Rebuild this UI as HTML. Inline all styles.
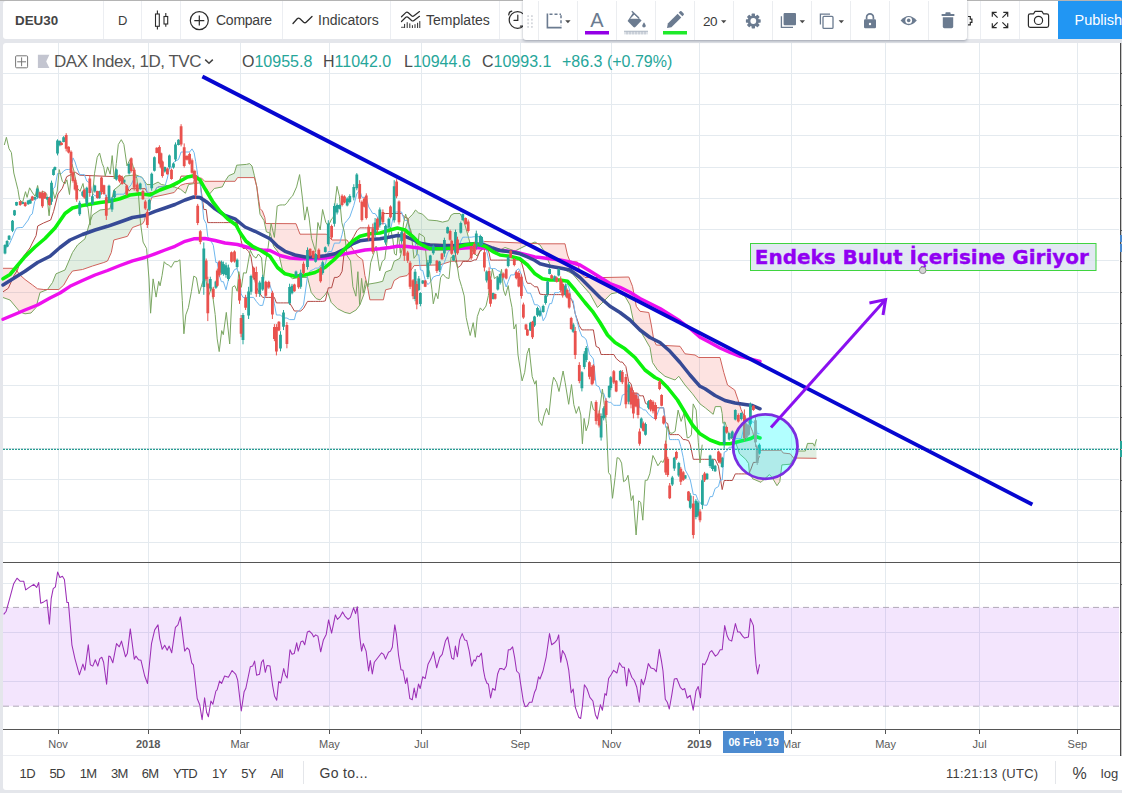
<!DOCTYPE html>
<html><head><meta charset="utf-8"><title>DEU30</title>
<style>
html,body{margin:0;padding:0;}
body{width:1122px;height:793px;overflow:hidden;background:#e4e6eb;position:relative;font-family:"Liberation Sans",sans-serif;color:#4a4a4a;}
.abs{position:absolute;}
#topbar{left:3px;top:1px;width:1119px;height:38px;background:#fff;border-radius:3px 0 0 3px;}
#topline{left:0;top:0;width:1122px;height:1px;background:#b4b4b4;}
.vd{position:absolute;top:1px;width:1px;height:38px;background:#eceef2;}
.tt{position:absolute;top:1px;height:38px;line-height:39px;font-size:14px;color:#3d3d3d;white-space:nowrap;}
#chart{left:3px;top:43px;width:1119px;height:713px;background:#fff;border-radius:3px 0 0 0;}
#bottombar{left:3px;top:755px;width:1119px;height:35px;background:#fff;border-top:1px solid #eceef2;box-sizing:border-box;border-radius:0 0 0 3px;}
.bt{position:absolute;top:757px;height:32px;line-height:33px;font-size:13px;letter-spacing:-0.6px;color:#3d3d3d;white-space:nowrap;}
#ftb{left:523px;top:0;width:444px;height:40px;background:#fff;border-radius:0 0 3px 3px;box-shadow:0 1px 3px rgba(60,70,90,.45);}
.fd{position:absolute;top:1px;width:1px;height:39px;background:#ebedf0;}
#publish{left:1058px;top:1px;width:64px;height:38px;background:#2196f3;color:#fff;font-size:14.5px;line-height:39px;padding-left:16.5px;box-sizing:border-box;white-space:nowrap;overflow:hidden;}
svg{position:absolute;left:0;top:0;overflow:visible;}
.lg{position:absolute;top:50.8px;height:22px;line-height:22px;font-size:16px;color:#4a4a4a;white-space:nowrap;}
.lg span{color:#26a69a;}
.tl{font-family:"Liberation Sans",sans-serif;font-size:11px;fill:#5a5a5a;text-anchor:middle;}
</style></head><body>
<div class="abs" id="topline"></div>
<div class="abs" id="topbar"></div>
<div class="abs" id="chart"></div>
<div class="abs" id="bottombar"></div>

<!-- CHART SVG -->
<svg id="c" width="1122" height="793" viewBox="0 0 1122 793">
<g stroke="#e4eaef" stroke-width="1" shape-rendering="crispEdges"><line x1="58" y1="43" x2="58" y2="729"/><line x1="148.2" y1="43" x2="148.2" y2="729"/><line x1="240" y1="43" x2="240" y2="729"/><line x1="329.4" y1="43" x2="329.4" y2="729"/><line x1="421.3" y1="43" x2="421.3" y2="729"/><line x1="520.2" y1="43" x2="520.2" y2="729"/><line x1="611.5" y1="43" x2="611.5" y2="729"/><line x1="699.5" y1="43" x2="699.5" y2="729"/><line x1="791.5" y1="43" x2="791.5" y2="729"/><line x1="885.6" y1="43" x2="885.6" y2="729"/><line x1="979.6" y1="43" x2="979.6" y2="729"/><line x1="1077.4" y1="43" x2="1077.4" y2="729"/><line x1="3" y1="73.4" x2="1119" y2="73.4"/><line x1="3" y1="104.7" x2="1119" y2="104.7"/><line x1="3" y1="135.9" x2="1119" y2="135.9"/><line x1="3" y1="167.2" x2="1119" y2="167.2"/><line x1="3" y1="198.4" x2="1119" y2="198.4"/><line x1="3" y1="229.7" x2="1119" y2="229.7"/><line x1="3" y1="260.9" x2="1119" y2="260.9"/><line x1="3" y1="292.1" x2="1119" y2="292.1"/><line x1="3" y1="323.4" x2="1119" y2="323.4"/><line x1="3" y1="354.6" x2="1119" y2="354.6"/><line x1="3" y1="385.9" x2="1119" y2="385.9"/><line x1="3" y1="417.1" x2="1119" y2="417.1"/><line x1="3" y1="448.4" x2="1119" y2="448.4"/><line x1="3" y1="479.6" x2="1119" y2="479.6"/><line x1="3" y1="510.9" x2="1119" y2="510.9"/><line x1="3" y1="542.1" x2="1119" y2="542.1"/><line x1="3" y1="583.7" x2="1119" y2="583.7"/><line x1="3" y1="632.4" x2="1119" y2="632.4"/><line x1="3" y1="681" x2="1119" y2="681"/></g>
<path d="M3.0,297.5 L10.0,300.0 L15.0,306.0 L20.0,312.0 L25.0,313.8 L31.0,313.0 L32.5,311.4 L36.0,307.5 L37.5,301.9 L40.0,292.5 L43.8,291.0 L47.5,289.5 L47.5,289.5 L47.5,289.5 L47.5,289.5 L43.8,289.5 L40.0,289.1 L37.5,288.8 L36.0,287.7 L32.5,285.0 L31.0,283.9 L25.0,279.5 L20.0,275.0 L15.0,268.3 L10.0,268.3 L3.0,268.3Z" fill="rgba(244,67,54,0.15)" stroke="none"/><path d="M47.5,289.5 L52.5,282.5 L56.0,273.8 L58.8,272.6 L63.8,270.5 L65.0,270.0 L68.8,261.1 L72.5,252.5 L77.5,245.0 L82.5,240.9 L85.0,238.8 L89.0,225.0 L92.5,215.0 L100.0,210.0 L103.8,209.5 L107.5,209.1 L110.0,208.8 L111.3,202.4 L113.8,190.0 L120.0,185.0 L125.0,176.0 L127.5,175.7 L132.5,175.2 L135.7,174.9 L142.0,177.3 L142.5,178.0 L144.5,181.0 L146.0,183.2 L146.9,184.5 L147.7,184.5 L151.7,184.5 L153.3,184.5 L158.1,182.1 L161.3,184.5 L163.0,184.8 L174.2,186.9 L177.4,188.1 L177.7,188.2 L177.7,188.2 L177.4,188.5 L174.2,192.5 L163.0,195.0 L161.3,195.3 L158.1,196.0 L153.3,197.0 L151.7,197.3 L147.7,211.0 L146.9,212.1 L146.0,213.4 L144.5,220.6 L142.5,223.8 L142.0,224.0 L135.7,226.3 L132.5,227.5 L127.5,236.3 L125.0,237.0 L120.0,238.3 L113.8,240.0 L111.3,252.5 L110.0,255.4 L107.5,261.0 L103.8,262.5 L100.0,263.7 L92.5,266.0 L89.0,267.2 L85.0,268.6 L82.5,269.5 L77.5,270.2 L72.5,271.0 L68.8,276.0 L65.0,282.8 L63.8,285.0 L58.8,289.5 L56.0,289.5 L52.5,289.5 L47.5,289.5Z" fill="rgba(67,150,71,0.16)" stroke="none"/><path d="M177.7,188.2 L180.6,189.3 L185.4,193.3 L188.6,184.5 L193.4,183.7 L195.0,183.5 L199.8,182.9 L201.4,184.3 L204.7,187.1 L206.3,188.5 L209.5,194.1 L214.3,188.5 L222.3,186.9 L225.1,181.3 L225.1,181.3 L222.3,181.3 L214.3,181.3 L209.5,181.3 L206.3,181.3 L204.7,181.3 L201.4,178.0 L199.8,178.0 L195.0,178.0 L193.4,182.9 L188.6,183.4 L185.4,183.7 L180.6,185.3 L177.7,188.2Z" fill="rgba(244,67,54,0.15)" stroke="none"/><path d="M225.1,181.3 L225.5,180.5 L228.7,175.7 L234.3,173.3 L235.1,170.6 L236.7,165.2 L237.5,165.1 L246.4,164.4 L249.6,163.6 L252.0,166.0 L254.4,175.7 L256.8,186.9 L256.8,186.9 L254.4,177.6 L252.0,177.6 L249.6,177.6 L246.4,177.6 L237.5,177.6 L236.7,178.8 L235.1,181.3 L234.3,181.3 L228.7,181.3 L225.5,181.3 L225.1,181.3Z" fill="rgba(67,150,71,0.16)" stroke="none"/><path d="M256.8,186.9 L256.8,186.9 L258.4,201.3 L260.0,214.2 L262.4,218.0 L264.0,220.6 L264.8,224.3 L265.6,228.1 L266.4,231.8 L270.4,233.4 L273.6,246.3 L278.5,252.7 L282.5,270.0 L292.5,278.7 L296.0,278.1 L300.0,277.4 L307.5,277.4 L311.2,292.4 L316.2,298.6 L320.0,299.9 L325.0,294.9 L326.4,292.7 L327.4,291.1 L331.2,302.4 L332.0,303.2 L337.4,308.6 L344.9,312.4 L347.0,312.9 L349.9,313.6 L356.2,309.9 L357.0,308.8 L359.9,304.9 L362.7,297.5 L363.7,294.9 L364.9,290.1 L366.2,284.9 L367.0,284.4 L367.1,284.4 L367.1,284.4 L367.0,284.0 L366.2,280.8 L364.9,275.6 L363.7,267.0 L362.7,259.9 L359.9,257.8 L357.0,255.6 L356.2,254.4 L349.9,244.5 L347.0,240.0 L344.9,240.0 L337.4,240.0 L332.0,240.0 L331.2,239.2 L327.4,235.2 L326.4,234.2 L325.0,234.2 L320.0,234.2 L316.2,234.2 L311.2,234.2 L307.5,234.2 L300.0,234.2 L296.0,223.7 L292.5,223.7 L282.5,223.6 L278.5,223.6 L273.6,223.6 L270.4,223.5 L266.4,223.5 L265.6,223.5 L264.8,217.4 L264.0,215.3 L262.4,211.0 L260.0,208.6 L258.4,198.1 L256.8,186.9 L256.8,186.9Z" fill="rgba(244,67,54,0.15)" stroke="none"/><path d="M367.1,284.4 L369.9,283.9 L377.0,282.7 L382.7,281.3 L383.4,279.1 L385.6,272.0 L391.3,269.9 L394.1,261.3 L399.8,258.4 L402.7,247.0 L405.5,228.5 L407.0,223.3 L408.4,218.5 L412.7,214.2 L414.1,212.1 L415.5,210.0 L418.4,212.8 L422.6,214.2 L428.3,220.0 L436.9,220.7 L439.7,221.4 L442.6,222.1 L448.3,220.7 L451.2,215.0 L454.0,213.5 L460.0,213.5 L463.5,220.0 L467.0,232.0 L468.0,235.7 L470.0,243.0 L472.0,249.0 L473.0,252.0 L473.8,252.8 L473.8,252.8 L473.0,253.8 L472.0,255.0 L470.0,258.0 L468.0,261.0 L467.0,261.0 L463.5,261.0 L460.0,261.0 L454.0,261.2 L451.2,261.3 L448.3,262.2 L442.6,264.0 L439.7,264.9 L436.9,265.0 L428.3,265.2 L422.6,265.4 L418.4,265.5 L415.5,265.6 L414.1,265.6 L412.7,267.7 L408.4,274.0 L407.0,275.6 L405.5,275.9 L402.7,276.4 L399.8,277.0 L394.1,280.6 L391.3,288.4 L385.6,289.8 L383.4,299.8 L382.7,299.8 L377.0,299.8 L369.9,299.8 L367.1,284.4Z" fill="rgba(67,150,71,0.16)" stroke="none"/><path d="M473.8,252.8 L476.0,255.0 L477.0,256.0 L480.0,251.5 L481.0,250.0 L485.0,246.0 L495.0,252.5 L505.0,247.5 L515.0,251.0 L525.0,246.0 L531.4,243.4 L531.4,243.4 L525.0,243.2 L515.0,242.8 L505.0,242.3 L495.0,241.9 L485.0,241.5 L481.0,242.7 L480.0,243.0 L477.0,248.2 L476.0,250.0 L473.8,252.8Z" fill="rgba(244,67,54,0.15)" stroke="none"/><path d="M531.4,243.4 L535.0,242.0 L537.9,243.7 L537.9,243.7 L535.0,243.6 L531.4,243.4Z" fill="rgba(67,150,71,0.16)" stroke="none"/><path d="M537.9,243.7 L540.0,245.0 L545.0,252.5 L550.0,265.0 L557.5,267.5 L565.0,270.0 L567.5,271.3 L570.0,272.5 L572.5,273.8 L577.5,279.6 L580.0,282.5 L585.0,288.1 L590.0,293.8 L597.5,307.5 L605.0,300.0 L611.0,293.8 L617.5,292.5 L625.0,296.3 L628.8,302.9 L630.0,305.0 L632.5,316.5 L633.8,322.5 L636.3,325.5 L640.0,330.0 L645.0,338.8 L648.8,345.4 L650.0,347.5 L651.3,355.3 L652.5,362.5 L653.8,364.4 L656.3,368.2 L657.5,370.0 L665.0,376.3 L675.0,380.0 L678.8,376.3 L680.0,378.0 L685.0,385.0 L692.5,393.8 L695.0,397.2 L698.8,402.3 L700.0,403.9 L705.5,408.0 L713.2,414.3 L715.3,406.6 L720.0,406.6 L720.8,406.6 L722.2,413.6 L722.9,423.3 L723.8,422.7 L725.0,421.9 L727.5,430.4 L729.1,435.8 L734.7,442.0 L736.0,443.4 L738.0,449.3 L739.5,453.8 L741.0,455.1 L744.4,458.2 L745.8,459.4 L748.6,463.5 L749.3,471.9 L752.7,478.8 L755.5,480.0 L757.6,480.9 L761.0,482.3 L763.1,480.2 L769.4,474.6 L772.1,477.4 L777.0,485.7 L779.8,481.6 L781.2,470.5 L781.9,464.9 L783.2,464.8 L790.2,464.2 L793.6,458.6 L794.0,458.0 L794.0,458.0 L793.6,458.0 L790.2,453.8 L783.2,453.0 L781.9,451.2 L781.2,450.3 L779.8,450.3 L777.0,450.3 L772.1,450.3 L769.4,450.3 L763.1,450.3 L761.0,450.3 L757.6,450.3 L755.5,443.4 L752.7,431.6 L749.3,423.6 L748.6,422.0 L745.8,418.3 L744.4,416.4 L741.0,409.4 L739.5,404.5 L738.0,399.7 L736.0,393.8 L734.7,390.0 L729.1,386.1 L727.5,385.0 L725.0,376.6 L723.8,372.5 L722.9,368.9 L722.2,366.2 L720.8,360.7 L720.0,357.5 L715.3,357.5 L713.2,357.5 L705.5,357.5 L700.0,357.5 L698.8,357.5 L695.0,355.0 L692.5,354.7 L685.0,353.8 L680.0,346.3 L678.8,346.2 L675.0,346.0 L665.0,345.5 L657.5,345.1 L656.3,345.0 L653.8,340.0 L652.5,332.2 L651.3,325.0 L650.0,318.5 L648.8,312.5 L645.0,312.0 L640.0,311.3 L636.3,306.3 L633.8,293.1 L632.5,286.3 L630.0,280.0 L628.8,277.0 L625.0,277.1 L617.5,277.2 L611.0,277.4 L605.0,277.5 L597.5,277.5 L590.0,277.5 L585.0,277.5 L580.0,272.5 L577.5,262.0 L572.5,261.5 L570.0,261.3 L567.5,255.0 L565.0,243.8 L557.5,243.8 L550.0,243.8 L545.0,243.8 L540.0,243.8 L537.9,243.7Z" fill="rgba(244,67,54,0.15)" stroke="none"/><path d="M794.0,458.0 L795.7,455.2 L797.1,451.0 L805.4,451.0 L807.5,443.4 L813.1,443.4 L814.5,446.2 L816.5,439.3 L816.5,458.3 L814.5,458.3 L813.1,458.3 L807.5,458.2 L805.4,458.2 L797.1,458.0 L795.7,458.0 L794.0,458.0Z" fill="rgba(67,150,71,0.16)" stroke="none"/><path d="M3.0,297.5 L10.0,300.0 L15.0,306.0 L20.0,312.0 L25.0,313.8 L31.0,313.0 L36.0,307.5 L40.0,292.5 L47.5,289.5 L52.5,282.5 L56.0,273.8 L65.0,270.0 L72.5,252.5 L77.5,245.0 L85.0,238.8 L89.0,225.0 L92.5,215.0 L100.0,210.0 L110.0,208.8 L113.8,190.0 L120.0,185.0 L125.0,176.0 L135.7,174.9 L142.0,177.3 L146.9,184.5 L153.3,184.5 L158.1,182.1 L161.3,184.5 L174.2,186.9 L180.6,189.3 L185.4,193.3 L188.6,184.5 L193.4,183.7 L199.8,182.9 L206.3,188.5 L209.5,194.1 L214.3,188.5 L222.3,186.9 L225.5,180.5 L228.7,175.7 L234.3,173.3 L236.7,165.2 L246.4,164.4 L249.6,163.6 L252.0,166.0 L254.4,175.7 L256.8,186.9 L258.4,201.3 L260.0,214.2 L264.0,220.6 L266.4,231.8 L270.4,233.4 L273.6,246.3 L278.5,252.7 L282.5,270.0 L292.5,278.7 L300.0,277.4 L307.5,277.4 L311.2,292.4 L316.2,298.6 L320.0,299.9 L325.0,294.9 L327.4,291.1 L331.2,302.4 L337.4,308.6 L344.9,312.4 L349.9,313.6 L356.2,309.9 L359.9,304.9 L363.7,294.9 L366.2,284.9 L367.0,284.4 L377.0,282.7 L382.7,281.3 L385.6,272.0 L391.3,269.9 L394.1,261.3 L399.8,258.4 L402.7,247.0 L405.5,228.5 L408.4,218.5 L412.7,214.2 L415.5,210.0 L418.4,212.8 L422.6,214.2 L428.3,220.0 L436.9,220.7 L442.6,222.1 L448.3,220.7 L451.2,215.0 L454.0,213.5 L460.0,213.5 L463.5,220.0 L467.0,232.0 L470.0,243.0 L473.0,252.0 L477.0,256.0 L481.0,250.0 L485.0,246.0 L495.0,252.5 L505.0,247.5 L515.0,251.0 L525.0,246.0 L535.0,242.0 L540.0,245.0 L545.0,252.5 L550.0,265.0 L557.5,267.5 L565.0,270.0 L572.5,273.8 L580.0,282.5 L590.0,293.8 L597.5,307.5 L605.0,300.0 L611.0,293.8 L617.5,292.5 L625.0,296.3 L630.0,305.0 L633.8,322.5 L640.0,330.0 L645.0,338.8 L650.0,347.5 L652.5,362.5 L657.5,370.0 L665.0,376.3 L675.0,380.0 L678.8,376.3 L685.0,385.0 L692.5,393.8 L700.0,403.9 L705.5,408.0 L713.2,414.3 L715.3,406.6 L720.8,406.6 L722.2,413.6 L722.9,423.3 L725.0,421.9 L729.1,435.8 L736.0,443.4 L739.5,453.8 L745.8,459.4 L748.6,463.5 L749.3,471.9 L752.7,478.8 L761.0,482.3 L763.1,480.2 L769.4,474.6 L772.1,477.4 L777.0,485.7 L779.8,481.6 L781.9,464.9 L790.2,464.2 L795.7,455.2 L797.1,451.0 L805.4,451.0 L807.5,443.4 L813.1,443.4 L814.5,446.2 L816.5,439.3" fill="none" stroke="#7aa661" stroke-width="1"/><path d="M3.0,268.3 L15.0,268.3 L20.0,275.0 L25.0,279.5 L32.5,285.0 L37.5,288.8 L43.8,289.5 L58.8,289.5 L63.8,285.0 L68.8,276.0 L72.5,271.0 L82.5,269.5 L92.5,266.0 L103.8,262.5 L107.5,261.0 L111.3,252.5 L113.8,240.0 L127.5,236.3 L132.5,227.5 L142.5,223.8 L144.5,220.6 L146.0,213.4 L147.7,211.0 L151.7,197.3 L163.0,195.0 L174.2,192.5 L177.4,188.5 L180.6,185.3 L185.4,183.7 L193.4,182.9 L195.0,178.0 L201.4,178.0 L204.7,181.3 L235.1,181.3 L237.5,177.6 L254.4,177.6 L256.8,186.9 L258.4,198.1 L260.0,208.6 L262.4,211.0 L264.8,217.4 L265.6,223.5 L296.0,223.7 L300.0,234.2 L326.4,234.2 L332.0,240.0 L347.0,240.0 L357.0,255.6 L362.7,259.9 L364.9,275.6 L367.0,284.0 L369.9,299.8 L383.4,299.8 L385.6,289.8 L391.3,288.4 L394.1,280.6 L399.8,277.0 L407.0,275.6 L408.4,274.0 L412.7,267.7 L414.1,265.6 L439.7,264.9 L442.6,264.0 L451.2,261.3 L460.0,261.0 L468.0,261.0 L472.0,255.0 L476.0,250.0 L480.0,243.0 L485.0,241.5 L540.0,243.8 L565.0,243.8 L567.5,255.0 L570.0,261.3 L577.5,262.0 L580.0,272.5 L585.0,277.5 L605.0,277.5 L628.8,277.0 L632.5,286.3 L636.3,306.3 L640.0,311.3 L648.8,312.5 L651.3,325.0 L653.8,340.0 L656.3,345.0 L680.0,346.3 L685.0,353.8 L695.0,355.0 L698.8,357.5 L720.0,357.5 L723.8,372.5 L727.5,385.0 L734.7,390.0 L738.0,399.7 L741.0,409.4 L744.4,416.4 L748.6,422.0 L752.7,431.6 L755.5,443.4 L757.6,450.3 L781.2,450.3 L783.2,453.0 L790.2,453.8 L793.6,458.0 L816.5,458.3" fill="none" stroke="#d0635c" stroke-width="1"/>
<path d="M3.0,291.8 L8.3,288.3 L13.9,275.8 L17.4,270.3 L20.8,259.9 L29.9,248.0 L31.9,243.9 L36.1,235.6 L37.7,226.0 L43.5,223.0 L50.7,220.0 L53.6,211.4 L58.0,194.0 L62.3,188.3 L66.7,176.7 L75.4,172.3 L79.7,175.2 L116.0,176.7 L119.5,176.6 L122.1,176.6 L124.1,183.1 L126.7,185.2 L129.1,191.2 L131.2,188.7 L134.2,188.7 L137.2,188.7 L140.2,188.7 L142.9,188.7 L145.3,188.7 L147.3,192.7 L149.3,192.7 L151.7,192.7 L154.4,192.2 L156.8,187.7 L159.4,186.7 L161.0,186.7 L162.4,186.7 L164.8,186.7 L167.4,186.7 L169.4,186.7 L171.5,186.7 L173.5,186.7 L175.5,185.2 L178.5,183.7 L181.1,176.1 L184.2,176.1 L187.0,176.1 L189.6,176.1 L192.0,176.1 L194.1,176.1 L195.7,176.1 L197.7,176.1 L200.3,184.2 L203.8,209.5 L206.2,209.5 L207.8,222.6 L210.3,222.6 L213.3,222.6 L215.9,222.6 L217.3,222.6 L219.3,222.6 L221.4,222.6 L223.4,222.6 L226.0,222.6 L228.4,222.6 L231.5,222.6 L234.5,222.6 L237.1,222.6 L239.5,232.2 L241.1,240.3 L243.0,248.4 L245.6,248.4 L248.6,251.4 L251.0,256.9 L253.6,274.1 L256.3,287.2 L259.7,293.3 L262.7,297.4 L265.8,297.4 L268.8,297.4 L272.4,297.4 L274.4,297.4 L276.4,302.9 L278.9,302.9 L280.5,302.9 L283.5,302.9 L286.9,302.9 L289.6,302.9 L292.0,306.9 L294.4,311.0 L296.0,311.0 L298.6,311.0 L300.7,311.0 L303.5,308.5 L307.5,301.4 L310.1,301.4 L313.2,301.4 L315.6,301.4 L318.8,301.4 L320.6,301.4 L322.7,301.4 L325.3,300.9 L328.3,287.8 L331.6,287.8 L334.4,277.4 L337.1,277.4 L339.7,275.8 L342.1,271.3 L344.5,249.6 L347.2,244.4 L349.8,243.1 L353.8,236.5 L356.8,230.9 L359.7,227.9 L361.9,227.9 L364.3,227.9 L366.3,227.9 L368.7,227.9 L372.8,227.9 L375.1,227.9 L377.4,227.9 L379.8,223.9 L382.9,213.5 L385.5,213.5 L388.9,213.5 L390.5,213.5 L394.2,213.5 L396.6,213.5 L399.0,213.5 L401.6,213.5 L404.3,217.0 L407.7,218.0 L410.1,231.1 L413.1,236.2 L415.1,240.2 L416.8,244.2 L418.8,244.2 L420.4,244.2 L422.8,244.2 L425.2,244.2 L427.9,244.2 L430.3,244.2 L433.3,244.2 L436.9,244.2 L439.4,244.2 L442.0,244.2 L444.4,244.2 L447.6,244.2 L450.1,244.2 L451.7,244.2 L453.5,244.2 L455.5,254.8 L457.5,267.9 L460.8,265.4 L462.8,261.4 L465.6,261.4 L468.2,261.4 L471.2,261.4 L474.3,259.9 L476.3,259.9 L480.3,250.3 L481.6,250.3 L484.4,246.3 L486.7,248.0 L489.1,253.0 L490.5,260.1 L493.1,260.1 L495.1,260.1 L497.8,260.1 L500.2,260.1 L503.2,260.1 L506.2,260.1 L508.2,260.1 L510.7,260.1 L514.3,260.1 L516.3,260.1 L518.8,260.1 L521.4,262.1 L523.4,269.2 L526.0,280.3 L527.4,283.3 L530.4,283.3 L532.5,284.8 L534.5,286.8 L537.5,286.8 L539.9,294.1 L543.2,294.6 L545.6,294.6 L547.6,294.6 L549.6,294.6 L551.6,294.6 L554.7,294.6 L556.7,294.6 L558.7,294.6 L560.7,294.6 L562.7,294.6 L565.4,294.6 L567.2,294.6 L569.2,298.6 L571.2,298.6 L573.2,303.6 L575.2,313.7 L579.3,325.8 L581.9,329.9 L584.3,329.9 L586.3,329.9 L589.4,329.9 L592.0,329.9 L593.4,329.9 L596.1,346.4 L599.1,347.9 L601.1,354.5 L603.7,354.5 L606.1,354.5 L609.2,354.5 L610.8,354.5 L613.8,354.5 L616.2,358.5 L620.3,362.0 L622.3,362.0 L625.9,366.6 L628.7,381.7 L631.0,383.7 L633.4,393.3 L636.0,393.3 L638.0,393.3 L639.6,395.8 L641.3,395.8 L643.3,395.8 L645.5,403.4 L648.5,404.9 L650.5,404.9 L653.0,407.8 L655.6,407.8 L659.6,407.8 L661.6,407.8 L663.6,407.8 L665.7,422.5 L667.7,423.5 L669.7,434.6 L672.3,434.6 L674.3,434.6 L676.4,434.6 L678.8,434.6 L680.8,436.6 L683.2,439.6 L685.2,439.6 L688.5,440.6 L690.3,444.7 L693.3,459.3 L695.9,459.3 L697.9,459.3 L700.0,459.3 L702.4,459.3 L704.6,459.3 L707.0,459.3 L710.1,459.3 L712.5,459.3 L715.1,459.3 L718.5,466.3 L720.1,476.9 L722.2,489.6 L724.2,480.5 L726.6,480.5 L729.2,480.5 L732.3,480.5 L735.3,473.9 L738.3,473.9 L741.3,473.9 L744.4,473.9 L746.5,473.9 L748.6,473.9 L750.4,470.5 L753.4,462.4 L755.5,462.4 L757.2,462.4 L759.4,455.9" fill="none" stroke="#b24a46" stroke-width="1"/><path d="M5.0,249.2 L7.1,247.2 L9.1,244.7 L12.5,237.1 L14.5,232.1 L16.5,228.0 L20.2,227.5 L22.6,227.5 L25.2,224.0 L28.2,220.0 L30.3,215.4 L32.3,213.9 L34.7,201.3 L37.3,197.3 L40.0,197.3 L42.4,197.8 L44.8,197.8 L47.4,197.8 L49.4,197.8 L51.5,194.2 L53.5,188.2 L54.9,187.2 L57.5,173.6 L59.9,173.6 L61.5,173.6 L63.6,171.0 L66.2,169.5 L68.6,169.5 L71.0,169.0 L73.0,157.9 L75.1,162.0 L76.7,167.5 L79.7,174.6 L82.7,174.6 L84.3,174.6 L86.8,181.1 L89.8,183.1 L92.4,193.2 L94.8,195.8 L97.3,195.8 L99.3,195.8 L101.5,191.2 L103.9,191.2 L106.3,197.8 L109.0,197.8 L112.0,198.3 L114.4,198.3 L116.4,194.2 L119.5,194.2 L122.1,194.2 L124.1,194.2 L126.7,190.2 L129.1,187.2 L131.2,184.7 L134.2,178.1 L137.2,176.6 L140.2,176.6 L142.9,178.6 L145.3,183.6 L147.3,192.7 L149.3,192.7 L151.7,197.8 L154.4,192.2 L156.8,187.7 L159.4,186.7 L161.0,186.7 L162.4,186.7 L164.8,186.7 L167.4,178.1 L169.4,168.0 L171.5,168.0 L173.5,162.5 L175.5,161.0 L178.5,159.5 L181.1,152.0 L184.2,152.0 L187.0,152.0 L189.6,152.0 L192.0,148.9 L194.1,152.5 L195.7,161.5 L197.7,174.7 L200.3,184.2 L203.8,219.1 L206.2,223.6 L207.8,236.8 L210.3,239.8 L213.3,245.3 L215.9,262.5 L217.3,262.5 L219.3,275.6 L221.4,281.7 L223.4,281.7 L226.0,289.8 L228.4,279.7 L231.5,275.2 L234.5,269.6 L237.1,268.6 L239.5,277.2 L241.1,293.8 L243.0,297.4 L245.6,297.4 L248.6,297.4 L251.0,297.4 L253.6,297.4 L256.3,301.4 L259.7,305.4 L262.7,305.4 L265.8,292.8 L268.8,281.7 L272.4,292.8 L274.4,303.9 L276.4,315.0 L278.9,315.0 L280.5,315.0 L283.5,318.0 L286.9,318.0 L289.6,319.6 L292.0,319.6 L294.4,319.6 L296.0,313.0 L298.6,311.0 L300.7,309.0 L303.5,304.9 L307.5,276.2 L310.1,270.9 L313.2,269.6 L315.6,268.1 L318.8,268.1 L320.6,265.1 L322.7,265.1 L325.3,264.6 L328.3,251.5 L331.6,251.5 L334.4,243.1 L337.1,243.1 L339.7,243.1 L342.1,234.5 L344.5,223.4 L347.2,220.4 L349.8,217.0 L353.8,205.4 L356.8,193.8 L359.7,189.8 L361.9,197.3 L364.3,197.3 L366.3,197.3 L368.7,206.9 L372.8,213.5 L375.1,213.5 L377.4,217.0 L379.8,223.6 L382.9,223.6 L385.5,223.6 L388.9,230.6 L390.5,229.6 L394.2,212.5 L396.6,212.0 L399.0,212.0 L401.6,212.0 L404.3,220.0 L407.7,221.0 L410.1,234.2 L413.1,239.2 L415.1,240.2 L416.8,254.8 L418.8,254.8 L420.4,270.0 L422.8,270.5 L425.2,280.1 L427.9,284.6 L430.3,282.1 L433.3,277.0 L436.9,275.5 L439.4,275.5 L442.0,265.9 L444.4,262.4 L447.6,252.8 L450.1,249.8 L451.7,249.8 L453.5,249.8 L455.5,249.8 L457.5,249.3 L460.8,241.2 L462.8,237.2 L465.6,237.2 L468.2,237.2 L471.2,237.2 L474.3,236.7 L476.3,236.7 L480.3,236.7 L481.6,236.7 L484.4,244.4 L486.7,251.0 L489.1,261.6 L490.5,268.6 L493.1,268.6 L495.1,268.6 L497.8,270.7 L500.2,271.4 L503.2,277.9 L506.2,287.0 L508.2,281.5 L510.7,274.9 L514.3,274.9 L516.3,270.4 L518.8,268.7 L521.4,274.4 L523.4,284.5 L526.0,290.0 L527.4,293.1 L530.4,293.1 L532.5,298.6 L534.5,304.7 L537.5,304.9 L539.9,306.7 L543.2,320.8 L545.6,316.8 L547.6,309.7 L549.6,303.6 L551.6,303.6 L554.7,292.6 L556.7,292.6 L558.7,292.6 L560.7,290.5 L562.7,290.5 L565.4,286.5 L567.2,283.5 L569.2,288.5 L571.2,299.1 L573.2,300.6 L575.2,313.7 L579.3,329.9 L581.9,336.4 L584.3,337.4 L586.3,340.0 L589.4,354.1 L592.0,357.1 L593.4,359.1 L596.1,385.3 L599.1,386.8 L601.1,393.3 L603.7,393.3 L606.1,400.9 L609.2,402.4 L610.8,402.4 L613.8,405.3 L616.2,405.3 L620.3,405.3 L622.3,395.2 L625.9,393.7 L628.7,389.2 L631.0,389.2 L633.4,394.2 L636.0,394.2 L638.0,394.2 L639.6,407.8 L641.3,407.8 L643.3,409.9 L645.5,409.9 L648.5,413.9 L650.5,415.9 L653.0,417.9 L655.6,418.9 L659.6,407.8 L661.6,407.8 L663.6,407.8 L665.7,427.5 L667.7,428.5 L669.7,439.6 L672.3,439.6 L674.3,439.6 L676.4,439.6 L678.8,439.6 L680.8,446.7 L683.2,457.3 L685.2,469.9 L688.5,475.9 L690.3,480.0 L693.3,494.6 L695.9,494.6 L697.9,500.1 L700.0,502.7 L702.4,504.7 L704.6,505.2 L707.0,505.2 L710.1,496.6 L712.5,496.6 L715.1,488.5 L718.5,486.5 L720.1,480.0 L722.2,480.0 L724.2,452.2 L726.6,451.2 L729.2,447.2 L732.3,447.2 L735.3,438.6 L738.3,438.6 L741.3,438.6 L744.4,425.3 L746.5,425.3 L748.6,425.3 L750.4,421.9 L753.4,421.9 L755.5,424.7 L757.2,433.7 L759.4,433.7" fill="none" stroke="#6fb7ee" stroke-width="1"/><path d="M4.3,145.0 L6.4,137.3 L9.0,148.7 L11.4,152.6 L13.8,173.0 L15.8,181.1 L17.9,189.5 L19.5,199.4 L22.5,202.7 L25.5,191.7 L27.1,197.4 L29.6,187.8 L32.6,193.0 L35.2,196.3 L37.6,185.5 L40.1,197.9 L42.1,191.3 L44.3,192.0 L46.7,193.9 L49.1,215.8 L51.8,185.8 L54.8,198.6 L57.2,191.1 L59.2,169.6 L62.3,181.3 L64.9,184.0 L66.9,179.8 L69.5,194.5 L71.9,164.0 L74.0,171.0 L77.0,187.8 L80.0,191.3 L83.0,183.5 L85.7,199.2 L88.1,208.4 L90.1,225.1 L92.1,200.0 L94.5,173.7 L97.2,157.3 L99.6,153.0 L102.2,163.4 L103.8,167.5 L105.2,176.0 L107.6,166.9 L110.2,174.2 L112.2,155.6 L114.3,179.0 L116.3,163.5 L118.3,144.5 L121.3,139.7 L123.9,144.5 L127.0,165.9 L129.8,159.7 L132.4,163.7 L134.8,172.8 L136.9,178.7 L138.5,194.9 L140.5,223.0 L143.1,242.1 L146.6,248.6 L149.0,279.0 L150.6,313.2 L153.1,278.9 L156.1,297.1 L158.7,281.4 L160.1,285.8 L162.1,275.3 L164.2,261.7 L166.2,264.0 L168.8,265.2 L171.2,267.4 L174.3,261.7 L177.3,261.6 L179.9,259.8 L182.3,300.6 L183.9,333.8 L185.8,314.9 L188.4,307.7 L191.4,291.5 L193.8,276.1 L196.4,277.7 L199.1,293.8 L202.5,282.4 L205.5,277.0 L208.6,295.7 L211.6,287.5 L215.2,314.6 L217.2,338.9 L219.2,351.6 L221.7,330.6 L223.3,334.7 L226.3,312.4 L229.7,344.0 L232.4,287.1 L234.8,285.7 L237.2,291.3 L238.8,271.6 L241.4,287.3 L243.5,272.8 L246.3,273.1 L250.3,250.1 L252.9,255.6 L256.0,258.1 L258.4,254.0 L261.6,257.9 L263.4,281.2 L265.5,262.2 L268.1,247.3 L271.1,223.4 L274.4,237.4 L277.2,206.1 L279.9,205.0 L282.5,204.9 L284.9,205.0 L287.3,202.5 L290.0,198.4 L292.6,195.9 L296.6,186.9 L299.6,174.6 L302.5,198.8 L304.7,220.1 L307.1,206.8 L309.1,218.0 L311.5,238.3 L315.6,251.7 L317.9,222.5 L320.2,230.0 L322.6,209.5 L325.7,222.2 L328.3,226.0 L331.7,218.8 L333.3,217.3 L337.0,186.3 L339.4,196.3 L341.8,222.3 L344.4,232.2 L347.1,255.7 L350.5,260.8 L352.9,286.7 L355.9,296.2 L357.9,271.7 L359.6,304.6 L361.6,278.4 L363.2,293.1 L365.6,280.6 L368.0,286.7 L370.7,262.6 L373.1,255.4 L376.1,246.1 L379.7,270.9 L382.2,261.5 L384.8,259.2 L387.2,240.0 L390.4,227.2 L392.9,239.8 L394.5,253.8 L396.3,255.2 L398.3,231.9 L400.3,253.2 L403.6,222.9 L405.6,214.1 L408.4,224.2 L411.0,231.0 L414.0,258.3 L417.1,254.0 L419.1,233.5 L423.1,236.0 L424.4,237.1 L427.2,267.4 L429.5,271.5 L431.9,289.2 L433.3,303.8 L435.9,293.0 L437.9,298.7 L440.6,277.6 L443.0,274.1 L446.0,277.6 L449.0,278.5 L451.0,257.2 L453.5,257.4 L457.1,264.9 L459.1,278.3 L461.6,286.5 L464.2,295.9 L466.2,317.6 L468.8,329.6 L470.2,335.5 L473.2,322.7 L475.3,337.3 L477.3,316.6 L480.3,307.9 L482.7,310.7 L486.0,306.0 L488.4,295.5 L490.4,281.6 L492.4,269.1 L494.4,278.6 L497.5,276.2 L499.5,282.0 L501.5,269.3 L503.5,290.1 L505.5,295.6 L508.2,285.6 L510.0,297.8 L512.0,307.6 L514.0,329.0 L516.0,324.4 L518.0,354.9 L522.1,380.9 L524.7,372.3 L527.1,353.7 L529.1,348.0 L532.2,376.7 L534.8,384.2 L536.2,380.6 L538.9,420.9 L541.9,425.5 L543.9,416.1 L546.5,408.3 L548.9,414.9 L552.0,385.9 L553.6,377.2 L556.6,382.4 L559.0,391.5 L563.1,371.0 L565.1,382.2 L568.7,404.3 L571.5,384.6 L573.8,404.6 L576.2,413.4 L578.8,406.5 L580.8,415.0 L582.4,443.8 L584.1,418.4 L586.1,430.8 L588.3,424.1 L591.3,401.3 L593.3,409.5 L595.8,411.2 L598.4,419.0 L602.4,389.0 L604.4,405.7 L606.4,423.5 L608.5,472.6 L610.5,475.1 L612.5,498.3 L615.1,477.4 L617.1,457.7 L619.2,458.3 L621.6,463.1 L623.6,481.7 L626.0,480.0 L628.0,475.3 L631.3,500.5 L633.1,495.6 L636.1,535.0 L638.7,500.8 L640.7,502.4 L642.8,520.2 L645.2,480.3 L647.4,480.2 L649.8,473.8 L652.9,455.5 L655.3,460.1 L657.9,465.8 L661.3,460.8 L662.9,462.6 L665.0,457.8 L667.0,426.3 L669.4,432.6 L672.0,433.3 L675.1,431.4 L678.1,410.1 L681.1,421.4 L684.1,413.0 L687.2,437.9 L689.3,437.4 L691.4,434.7 L693.2,403.9 L696.2,410.1 L698.3,442.2 L700.0,462.9 L702.2,444.7" fill="none" stroke="#7aa661" stroke-width="1"/>
<path d="M3.0,319.3 L15.0,314.3 L25.0,310.0 L37.5,305.0 L50.0,298.0 L60.0,293.0 L70.0,286.3 L82.5,280.5 L95.0,275.0 L107.5,270.5 L120.0,265.5 L132.5,260.8 L145.0,257.5 L155.0,253.8 L165.0,250.0 L175.0,246.3 L185.0,241.3 L193.8,238.8 L205.0,238.5 L215.0,240.5 L225.0,243.0 L237.5,244.5 L250.0,248.0 L262.5,250.0 L270.0,250.5 L280.0,255.5 L290.0,258.0 L300.0,258.8 L315.0,258.8 L325.0,258.0 L335.0,256.3 L345.0,253.8 L355.0,252.0 L365.0,250.0 L380.0,248.8 L390.0,247.5 L397.5,246.3 L405.0,246.3 L415.0,247.5 L425.0,248.8 L440.0,248.8 L455.0,248.8 L465.0,248.0 L475.0,247.5 L485.0,248.3 L495.0,250.0 L505.0,250.8 L515.0,252.0 L525.0,254.5 L535.0,257.0 L540.0,257.5 L550.0,258.8 L560.0,260.0 L570.0,262.0 L580.0,265.0 L590.0,271.0 L600.0,277.3 L610.0,283.5 L620.0,287.3 L630.0,292.3 L640.0,298.5 L650.0,303.5 L660.0,308.5 L670.0,314.8 L680.0,321.0 L690.0,328.5 L700.0,337.3 L710.0,342.5 L720.0,348.0 L730.0,352.5 L740.0,356.3 L750.0,358.8 L760.0,361.3" fill="none" stroke="#ee10ee" stroke-width="3.4" stroke-linejoin="round" stroke-linecap="round"/><path d="M3.0,285.0 L15.0,277.5 L25.0,271.3 L37.5,262.5 L50.0,256.3 L60.0,247.5 L70.0,240.0 L82.5,234.5 L95.0,230.0 L107.5,226.3 L120.0,222.0 L132.5,217.5 L145.0,215.5 L155.0,211.3 L165.0,208.0 L175.0,204.5 L185.0,200.0 L193.8,197.0 L200.0,197.5 L207.5,202.5 L215.0,208.8 L225.0,215.5 L235.0,218.8 L245.0,227.0 L255.0,231.3 L265.0,236.3 L270.0,238.8 L277.5,246.3 L285.0,251.3 L295.0,255.0 L305.0,257.0 L315.0,257.0 L325.0,255.8 L335.0,253.8 L345.0,248.8 L352.5,243.8 L360.0,240.8 L370.0,239.5 L380.0,238.8 L390.0,237.0 L397.5,235.5 L405.0,236.3 L412.5,239.5 L420.0,243.3 L430.0,245.0 L442.5,245.8 L455.0,245.8 L465.0,244.5 L475.0,243.8 L485.0,245.0 L492.5,248.0 L500.0,250.5 L510.0,251.8 L520.0,253.8 L527.5,257.0 L535.0,260.5 L540.0,263.8 L550.0,266.3 L560.0,268.0 L570.0,270.0 L580.0,277.5 L590.0,287.5 L600.0,297.5 L610.0,306.3 L620.0,312.5 L630.0,320.0 L640.0,330.0 L650.0,337.5 L660.0,342.5 L670.0,351.3 L680.0,362.5 L690.0,375.0 L700.0,386.3 L705.0,388.8 L715.0,395.5 L725.0,400.5 L735.0,403.0 L745.0,404.5 L752.5,405.5 L760.0,408.8" fill="none" stroke="#364a96" stroke-width="3.5" stroke-linejoin="round" stroke-linecap="round"/><path d="M3.0,278.8 L10.0,274.5 L17.5,265.5 L25.0,256.6 L35.0,247.0 L45.0,238.5 L55.0,228.0 L65.0,213.5 L72.5,208.0 L82.5,205.5 L100.0,202.5 L110.0,201.3 L120.0,198.8 L130.0,195.0 L140.0,193.8 L150.0,195.0 L160.0,190.0 L170.0,186.3 L180.0,181.3 L187.5,177.0 L193.8,175.8 L200.0,180.0 L205.0,188.8 L212.5,201.3 L220.0,211.3 L227.5,218.8 L236.0,225.0 L240.0,232.5 L246.0,241.3 L252.5,246.3 L260.0,250.0 L270.0,256.3 L277.5,267.5 L285.0,273.8 L295.0,276.3 L305.0,275.0 L315.0,272.5 L325.0,267.5 L335.0,258.8 L345.0,248.8 L352.5,241.3 L360.0,236.3 L370.0,233.8 L380.0,233.0 L390.0,230.0 L397.5,228.0 L405.0,230.0 L412.5,236.3 L420.0,243.8 L430.0,248.8 L442.5,248.8 L455.0,248.0 L465.0,245.0 L475.0,243.8 L485.0,246.3 L492.5,251.3 L500.0,255.0 L510.0,256.3 L520.0,258.8 L527.5,265.0 L535.0,273.8 L542.5,278.8 L550.0,280.0 L560.0,280.0 L567.5,281.3 L575.0,290.0 L585.0,302.5 L592.5,311.3 L600.0,322.5 L607.5,335.0 L615.0,342.5 L625.0,348.8 L635.0,357.5 L645.0,370.0 L655.0,377.5 L660.0,380.0 L667.5,387.5 L677.5,400.0 L685.0,412.5 L692.5,425.0 L700.0,433.8 L710.0,440.0 L720.0,443.8 L730.0,443.8 L740.0,441.3 L750.0,438.8 L755.0,436.3 L760.0,438.0" fill="none" stroke="#0cf20c" stroke-width="3.6" stroke-linejoin="round" stroke-linecap="round"/><path d="M5.0,244.2V254.3M7.1,240.1V247.2M9.1,235.1V240.1M12.5,220.0V232.1M14.5,209.9V215.9M16.5,201.8V205.8M22.6,201.8V204.2M28.2,199.8V204.8M30.3,198.8V203.8M34.7,196.8V199.8M37.3,187.7V198.8M47.4,196.8V199.8M51.5,180.6V204.8M53.5,168.5V175.6M54.9,166.5V170.5M57.5,139.3V155.4M59.9,140.3V146.3M63.6,136.2V142.3M79.7,200.8V215.9M82.7,190.7V196.8M86.8,186.7V206.9M92.4,194.7V204.8M94.8,184.7V192.7M99.3,190.7V198.8M109.0,184.7V202.8M112.0,196.8V211.9M114.4,189.7V198.8M116.4,168.5V180.6M124.1,179.6V182.6M129.1,162.5V174.6M140.2,182.6V189.7M149.3,198.8V210.9M151.7,172.6V190.7M154.4,156.4V171.5M164.8,166.6V172.6M169.4,154.5V168.6M173.5,162.6V168.6M175.5,142.4V161.5M178.5,139.3V145.4M203.8,242.4V294.8M210.3,276.7V290.8M215.9,280.7V288.8M221.4,260.5V274.7M223.4,261.5V275.7M226.0,262.6V277.7M228.4,264.6V280.7M237.1,258.5V268.6M243.0,313.0V344.3M248.6,286.8V319.0M251.0,274.7V294.8M259.7,280.7V296.9M262.7,274.7V290.8M280.5,331.2V351.3M283.5,310.0V330.1M289.6,283.7V304.9M292.0,283.9V294.4M296.0,270.6V276.7M300.7,269.6V288.8M307.5,247.4V269.6M315.6,252.5V262.6M322.7,260.5V274.7M325.3,246.4V252.5M328.3,220.2V246.4M334.4,203.4V226.6M337.1,203.4V214.5M339.7,204.4V209.4M347.2,197.3V206.4M349.8,194.3V203.4M353.8,184.2V200.4M356.8,173.1V190.3M375.1,218.0V237.6M379.8,207.4V227.6M385.5,224.6V244.7M388.9,217.5V228.6M394.2,180.2V222.6M401.6,230.6V242.7M415.1,269.0V301.2M418.8,276.0V291.2M420.4,292.2V306.3M422.8,280.1V284.1M427.9,259.9V279.0M430.3,254.8V264.9M433.3,244.7V254.8M439.4,260.9V272.0M444.4,237.7V256.9M447.6,226.6V233.6M453.5,254.8V260.9M455.5,229.6V254.8M460.8,221.5V233.6M462.8,213.5V220.5M476.3,230.6V248.8M480.3,234.7V246.8M481.6,236.1V246.1M486.7,270.4V282.5M493.1,292.6V299.6M497.8,276.4V290.5M500.2,273.4V284.5M508.2,256.2V267.3M530.4,321.8V330.9M534.5,315.8V326.9M537.5,306.7V316.8M539.9,309.7V316.8M543.2,304.7V312.7M545.6,294.6V304.7M547.6,280.4V296.6M549.6,268.3V274.4M554.7,275.4V281.5M558.7,268.3V276.4M565.4,283.5V296.6M573.2,322.8V332.9M581.9,371.2V391.4M584.3,351.1V369.2M586.3,346.0V362.2M601.1,413.4V440.6M603.7,406.3V420.4M609.2,385.1V398.2M610.8,376.1V390.2M620.3,370.0V382.1M628.7,382.1V404.3M641.3,417.4V428.5M645.5,422.5V435.6M648.5,400.3V409.3M672.3,475.9V486.0M674.3,456.8V470.9M678.8,461.8V476.9M685.2,474.9V479.0M690.3,493.1V509.2M695.9,499.1V519.3M697.9,501.2V517.3M702.4,474.9V509.2M707.0,472.9V480.0M710.1,454.7V467.9M712.5,458.8V470.9M715.1,464.8V471.9M722.2,456.8V467.9M724.2,422.5V448.7M729.2,432.6V440.6M732.3,430.5V438.6M735.3,409.3V420.4M741.3,412.4V420.4M750.4,402.5V426.1M759.4,443.4V454.5" stroke="#26a69a" stroke-width="1" fill="none"/><path d="M5.0,245.1V253.6M7.1,241.1V246.8M9.1,235.7V239.7M12.5,220.7V230.7M14.5,210.2V215.3M16.5,202.0V205.6M22.6,202.0V204.0M28.2,200.4V204.3M30.3,199.7V203.5M34.7,197.0V199.6M37.3,188.7V197.0M47.4,196.9V199.6M51.5,182.8V201.8M53.5,169.3V174.9M54.9,167.1V170.0M57.5,140.6V153.4M59.9,141.0V145.3M63.6,137.3V141.9M79.7,202.7V214.3M82.7,191.7V195.7M86.8,187.8V204.0M92.4,196.3V204.0M94.8,185.5V191.6M99.3,191.3V198.3M109.0,185.8V200.8M112.0,198.6V209.4M114.4,191.1V197.3M116.4,169.6V179.4M124.1,179.8V182.4M129.1,164.0V173.5M140.2,183.5V188.8M149.3,200.0V209.7M151.7,173.7V188.3M154.4,157.3V170.7M164.8,166.9V171.6M169.4,155.6V167.3M173.5,163.5V167.5M175.5,144.5V159.4M178.5,139.7V145.0M203.8,248.6V286.9M210.3,278.9V288.6M215.9,281.4V287.8M221.4,261.7V272.7M223.4,264.0V274.1M226.0,265.2V275.0M228.4,267.4V279.1M237.1,259.8V266.9M243.0,314.9V340.0M248.6,291.5V315.4M251.0,276.1V291.8M259.7,282.4V294.1M262.7,277.0V289.6M280.5,334.7V348.6M283.5,312.4V326.7M289.6,287.1V303.3M292.0,285.7V293.3M296.0,271.6V276.1M300.7,272.8V286.8M307.5,250.1V267.0M315.6,254.0V261.8M322.7,262.2V272.9M325.3,247.3V252.1M328.3,223.4V244.2M334.4,206.1V223.7M337.1,205.0V212.6M339.7,204.9V208.8M347.2,198.4V205.4M349.8,195.9V202.1M353.8,186.9V197.6M356.8,174.6V188.2M375.1,222.5V232.9M379.8,209.5V225.3M385.5,226.0V242.6M388.9,218.8V227.6M394.2,186.3V220.3M401.6,232.2V241.3M415.1,271.7V299.1M418.8,278.4V289.9M420.4,293.1V303.9M422.8,280.6V283.5M427.9,262.6V277.0M430.3,255.4V263.2M433.3,246.1V253.3M439.4,261.5V270.2M444.4,240.0V253.6M447.6,227.2V233.2M453.5,255.2V260.4M455.5,231.9V252.6M460.8,222.9V232.8M462.8,214.1V220.2M476.3,233.5V246.9M480.3,236.0V244.8M481.6,237.1V245.0M486.7,271.5V280.5M493.1,293.0V299.1M497.8,277.6V289.5M500.2,274.1V282.7M508.2,257.2V266.1M530.4,322.7V330.4M534.5,316.6V325.5M537.5,307.9V315.3M539.9,310.7V315.8M543.2,306.0V311.9M545.6,295.5V302.9M547.6,281.6V294.3M549.6,269.1V274.1M554.7,276.2V280.6M558.7,269.3V275.5M565.4,285.6V294.8M573.2,324.4V331.7M581.9,372.3V388.3M584.3,353.7V367.1M586.3,348.0V360.0M601.1,416.1V437.6M603.7,408.3V418.3M609.2,385.9V397.3M610.8,377.2V388.1M620.3,371.0V380.4M628.7,384.6V401.8M641.3,418.4V427.7M645.5,424.1V434.7M648.5,401.3V407.8M672.3,477.4V484.4M674.3,457.7V468.5M678.8,463.1V475.5M685.2,475.3V478.6M690.3,495.6V507.8M695.9,500.8V517.0M697.9,502.4V515.7M702.4,480.3V504.7M707.0,473.8V479.0M710.1,455.5V466.0M712.5,460.1V469.1M715.1,465.8V471.3M722.2,457.8V466.9M724.2,426.3V444.1M729.2,433.3V439.6M732.3,431.4V438.0M735.3,410.1V419.6M741.3,413.0V419.1M750.4,403.9V424.2M759.4,444.7V453.4" stroke="#26a69a" stroke-width="2.8" fill="none"/><path d="M20.2,200.8V205.8M25.2,201.8V206.9M32.3,195.8V200.8M40.0,191.7V198.8M42.4,190.7V207.9M44.8,191.7V198.8M49.4,196.8V205.8M61.5,142.3V145.3M66.2,133.2V151.4M68.6,146.3V153.4M71.0,150.4V176.6M73.0,170.5V182.6M75.1,177.6V190.7M76.7,182.6V201.8M84.3,188.7V198.8M89.8,175.6V196.8M97.3,190.7V198.8M101.5,176.6V194.7M103.9,184.7V194.7M106.3,194.7V220.0M119.5,174.6V182.6M122.1,175.6V184.7M126.7,184.7V195.8M131.2,157.4V172.6M134.2,167.5V190.7M137.2,182.6V192.7M142.9,189.7V199.8M145.3,199.8V209.9M147.3,208.9V228.0M156.8,147.3V153.4M159.4,145.3V164.5M161.0,152.5V168.6M162.4,160.5V177.7M167.4,167.6V174.7M171.5,168.6V179.7M181.1,124.2V146.4M184.2,143.4V167.6M187.0,155.5V160.5M189.6,152.5V164.6M192.0,158.5V173.6M194.1,169.6V180.7M195.7,170.6V198.9M197.7,203.9V225.1M200.3,230.1V244.3M206.2,258.5V280.7M207.8,276.7V321.1M213.3,286.8V298.9M217.3,268.6V286.8M219.3,260.5V276.7M231.5,251.5V262.6M234.5,250.4V262.6M239.5,274.7V303.9M241.1,315.0V337.2M245.6,294.8V310.0M253.6,266.6V279.7M256.3,266.6V296.9M265.8,280.7V296.9M268.8,280.7V288.8M272.4,290.8V319.0M274.4,324.1V341.2M276.4,324.1V355.4M278.9,321.1V331.2M286.9,322.1V348.3M294.4,283.7V291.8M298.6,276.7V288.8M303.5,261.5V274.7M310.1,248.4V256.5M313.2,250.4V258.5M318.8,248.4V259.5M320.6,266.6V282.7M331.6,224.6V239.7M342.1,194.3V206.4M344.5,195.3V203.4M359.7,180.2V202.4M361.9,200.4V221.5M364.3,197.3V207.4M366.3,193.3V219.5M368.7,224.6V240.7M372.8,223.6V253.8M377.4,217.5V232.6M382.9,209.4V224.6M390.5,205.4V218.5M396.6,179.2V198.3M399.0,200.4V224.6M404.3,231.6V260.9M407.7,250.8V262.9M410.1,260.9V289.1M413.1,279.0V299.2M416.8,281.1V309.3M425.2,280.1V287.1M436.9,259.9V273.0M442.0,252.8V259.9M450.1,229.6V240.7M451.7,239.7V254.8M457.5,236.7V254.8M465.6,217.5V224.6M468.2,219.5V232.6M471.2,245.8V259.9M474.3,241.7V254.8M484.4,249.2V271.4M489.1,267.3V292.6M490.5,276.4V306.7M495.1,293.6V299.6M503.2,272.4V278.4M506.2,268.3V279.4M510.7,250.2V258.2M514.3,258.2V266.3M516.3,270.4V279.4M518.8,270.9V287.3M521.4,274.4V298.6M523.4,302.6V318.8M526.0,323.8V329.9M527.4,328.9V335.9M532.5,320.8V339.0M551.6,274.4V279.4M556.7,276.4V282.5M560.7,276.4V292.6M562.7,281.5V297.6M567.2,288.5V298.6M569.2,292.6V308.7M571.2,316.8V329.9M575.2,326.9V359.1M579.3,362.2V383.3M589.4,361.2V379.3M592.0,365.2V385.4M593.4,364.2V383.3M596.1,400.3V424.5M599.1,410.4V427.5M606.1,398.2V417.4M613.8,370.0V384.1M616.2,380.1V392.2M622.3,370.0V384.1M625.9,374.0V408.3M631.0,386.1V408.3M633.4,390.2V418.4M636.0,392.2V407.3M638.0,396.2V418.4M639.6,428.5V445.7M643.3,421.5V431.5M650.5,399.3V411.4M653.0,400.3V413.4M655.6,402.3V420.4M659.6,380.1V390.2M661.6,394.2V406.3M663.6,415.4V424.5M665.7,440.6V474.9M667.7,456.8V476.9M669.7,483.0V499.1M676.4,450.7V459.8M680.8,466.9V485.0M683.2,470.9V481.0M688.5,491.1V501.2M693.3,496.1V538.5M700.0,509.2V522.3M704.6,471.9V482.0M718.5,450.7V462.8M720.1,452.7V463.8M726.6,426.5V433.6M738.3,413.4V422.5M744.4,409.4V441.3M753.4,405.3V410.8" stroke="#e9524e" stroke-width="1" fill="none"/><path d="M20.2,201.3V205.0M25.2,202.5V206.0M32.3,196.6V200.4M40.0,192.2V197.9M42.4,193.0V206.2M44.8,192.6V198.4M49.4,198.0V204.9M61.5,142.7V145.0M66.2,135.1V148.7M68.6,146.8V152.6M71.0,151.8V173.0M73.0,172.3V181.1M75.1,179.7V189.5M76.7,185.3V199.4M84.3,189.8V197.4M89.8,178.4V193.0M97.3,191.1V197.9M101.5,177.6V192.0M103.9,185.3V193.9M106.3,197.3V215.8M119.5,175.3V181.3M122.1,177.2V184.0M126.7,185.5V194.5M131.2,158.2V171.0M134.2,169.8V187.8M137.2,184.4V191.3M142.9,191.1V199.2M145.3,201.5V208.4M147.3,212.0V225.1M156.8,147.8V153.0M159.4,147.1V163.4M161.0,153.3V167.5M162.4,161.6V176.0M167.4,168.5V174.2M171.5,169.7V179.0M181.1,126.3V144.5M184.2,147.2V165.9M187.0,155.8V159.7M189.6,153.9V163.7M192.0,160.3V172.8M194.1,170.9V178.7M195.7,175.2V194.9M197.7,205.7V223.0M200.3,231.2V242.1M206.2,260.6V279.0M207.8,283.6V313.2M213.3,288.7V297.1M217.3,270.4V285.8M219.3,261.4V275.3M231.5,252.3V261.7M234.5,251.4V261.6M239.5,279.3V300.6M241.1,318.0V333.8M245.6,297.4V307.7M253.6,267.8V277.7M256.3,271.9V293.8M265.8,281.8V295.7M268.8,282.1V287.5M272.4,292.7V314.6M274.4,327.1V338.9M276.4,327.1V351.6M278.9,321.7V330.6M286.9,324.9V344.0M294.4,284.6V291.3M298.6,278.0V287.3M303.5,263.8V273.1M310.1,248.8V255.6M313.2,251.0V258.1M318.8,249.7V257.9M320.6,268.6V281.2M331.6,225.9V237.4M342.1,195.7V205.0M344.5,196.4V202.5M359.7,184.0V198.8M361.9,201.8V220.1M364.3,198.4V206.8M366.3,195.4V218.0M368.7,226.8V238.3M372.8,228.6V251.7M377.4,218.7V230.0M382.9,212.1V222.2M390.5,206.4V217.3M396.6,181.5V196.3M399.0,201.6V222.3M404.3,233.3V255.7M407.7,252.6V260.8M410.1,262.7V286.7M413.1,280.2V296.2M416.8,284.0V304.6M425.2,280.5V286.7M436.9,260.7V270.9M442.0,253.6V259.2M450.1,230.9V239.8M451.7,240.7V253.8M457.5,239.4V253.2M465.6,218.1V224.2M468.2,221.4V231.0M471.2,246.8V258.3M474.3,244.0V254.0M484.4,252.3V267.4M489.1,270.9V289.2M490.5,279.5V303.8M495.1,293.9V298.7M503.2,273.4V277.6M506.2,269.3V278.5M510.7,250.7V257.4M514.3,258.9V264.9M516.3,272.0V278.3M518.8,272.9V286.5M521.4,276.8V295.9M523.4,304.5V317.6M526.0,324.5V329.6M527.4,329.5V335.5M532.5,321.8V337.3M551.6,275.2V278.6M556.7,277.4V282.0M560.7,279.0V290.1M562.7,284.0V295.6M567.2,289.9V297.8M569.2,293.4V307.6M571.2,318.0V329.0M575.2,331.1V354.9M579.3,365.1V380.9M589.4,362.2V376.7M592.0,366.9V384.2M593.4,365.8V380.6M596.1,402.1V420.9M599.1,413.4V425.5M606.1,400.7V414.9M613.8,371.3V382.4M616.2,380.7V391.5M622.3,372.0V382.2M625.9,377.0V404.3M631.0,387.6V404.6M633.4,392.3V413.4M636.0,394.8V406.5M638.0,398.7V415.0M639.6,431.5V443.8M643.3,423.2V430.8M650.5,400.1V409.5M653.0,401.8V411.2M655.6,404.9V419.0M659.6,381.8V389.0M661.6,394.9V405.7M663.6,416.4V423.5M665.7,443.7V472.6M667.7,458.7V475.1M669.7,485.6V498.3M676.4,452.0V458.3M680.8,468.7V481.7M683.2,472.2V480.0M688.5,491.6V500.5M693.3,503.4V535.0M700.0,511.5V520.2M704.6,473.6V480.2M718.5,451.4V460.8M720.1,453.5V462.6M726.6,427.1V432.6M738.3,414.9V421.4M744.4,415.2V437.9M753.4,405.7V410.1" stroke="#e9524e" stroke-width="2.8" fill="none"/><path d="M746.5,423.3V438.6M748.6,424.7V435.8M755.5,415.0V446.9M757.2,445.5V464.9" stroke="#b88a8a" stroke-width="1" fill="none"/><path d="M746.5,424.3V437.4M748.6,425.4V434.7M755.5,420.2V442.2M757.2,447.5V462.9" stroke="#b88a8a" stroke-width="2.8" fill="none"/>


<line x1="3" y1="449.4" x2="1119" y2="449.4" stroke="#2a9d92" stroke-width="1.1" stroke-dasharray="2,1"/>
<line x1="202.4" y1="76.4" x2="1032.4" y2="504.6" stroke="#0606d0" stroke-width="3.9" stroke-linecap="butt"/>
<circle cx="765.3" cy="446.6" r="32.2" fill="rgba(0,255,255,0.3)" stroke="#7a2ee0" stroke-width="2.8"/>
<g stroke="#8a10f0" stroke-width="3" fill="none" stroke-linecap="butt">
<line x1="771" y1="427.5" x2="885.6" y2="299.6"/>
<polyline points="869.4,303 885.6,299.6 883,315" stroke-linejoin="miter"/>
</g>
<rect x="750.5" y="243.5" width="345.5" height="27" fill="rgba(219,226,239,0.8)" stroke="#3fd43f" stroke-width="1"/>
<text x="754.8" y="263.8" font-family="'DejaVu Sans','Liberation Sans',sans-serif" font-weight="bold" font-size="20" fill="#9100f2" stroke="#9100f2" stroke-width="0.35" textLength="334" lengthAdjust="spacingAndGlyphs">Endeks Bulut İçerisine Giriyor</text>
<circle cx="922.7" cy="270.3" r="3.3" fill="#d4d4d4" stroke="#8a8a8a" stroke-width="1"/>

<rect x="3" y="607.4" width="1116" height="98.8" fill="rgba(156,39,240,0.12)"/><line x1="3" y1="607.4" x2="1119" y2="607.4" stroke="#b0a8b8" stroke-width="1" stroke-dasharray="6,4"/><line x1="3" y1="706.2" x2="1119" y2="706.2" stroke="#b0a8b8" stroke-width="1" stroke-dasharray="6,4"/><path d="M3.7,614.4 L6.2,611.2 L10.0,597.4 L13.7,583.7 L17.0,578.2 L20.0,581.2 L23.7,581.2 L25.7,589.9 L29.9,586.9 L33.7,584.4 L36.7,587.4 L38.7,582.5 L40.7,603.2 L43.7,601.9 L46.9,599.9 L49.4,624.1 L51.2,598.7 L53.2,588.7 L55.4,586.9 L57.6,572.0 L59.9,577.5 L62.4,576.2 L64.4,579.5 L66.9,602.4 L68.4,602.4 L71.9,644.8 L74.9,658.6 L79.4,674.8 L82.9,664.1 L84.9,670.3 L88.3,644.8 L90.3,664.8 L92.8,666.1 L95.3,659.8 L97.8,666.1 L99.8,658.6 L101.8,657.3 L103.6,662.3 L106.6,684.3 L108.8,656.1 L110.3,656.8 L112.8,662.8 L116.5,643.6 L119.3,646.8 L121.5,641.1 L125.5,656.8 L127.3,653.6 L130.3,628.9 L134.3,659.3 L136.0,656.1 L138.5,659.8 L141.0,660.3 L144.7,676.0 L147.5,683.5 L151.5,643.6 L154.7,629.9 L158.0,624.9 L159.7,638.6 L162.2,649.3 L164.7,645.3 L167.2,650.3 L169.2,646.1 L171.7,652.8 L175.4,627.4 L177.9,624.9 L180.4,616.9 L184.7,651.1 L187.2,647.8 L189.2,649.8 L191.7,662.8 L193.4,664.8 L197.2,698.5 L199.7,704.7 L202.1,719.7 L204.6,697.8 L206.6,712.2 L208.4,716.7 L210.9,701.0 L212.9,704.2 L215.9,691.0 L217.1,689.8 L219.6,681.0 L221.6,683.5 L224.6,676.0 L228.4,677.3 L232.1,670.5 L235.8,674.3 L237.6,679.8 L241.3,711.0 L244.1,691.8 L245.8,688.5 L250.3,666.8 L252.6,666.1 L254.6,661.1 L256.6,675.3 L259.5,674.3 L261.5,662.3 L263.3,659.8 L265.3,672.3 L267.0,665.6 L270.0,666.1 L272.5,684.8 L274.5,696.0 L276.7,700.2 L278.7,681.5 L280.7,683.0 L283.7,668.6 L285.5,675.3 L287.2,678.0 L290.0,649.8 L292.0,654.3 L294.2,653.6 L296.7,642.8 L298.2,651.1 L300.9,641.8 L302.9,641.1 L304.7,644.8 L307.4,631.9 L309.4,631.1 L311.9,633.6 L313.7,636.9 L315.7,634.9 L317.9,636.1 L320.7,651.8 L323.4,639.9 L326.2,634.4 L328.6,619.9 L331.6,633.1 L335.4,614.9 L337.4,619.4 L339.9,616.9 L342.6,611.9 L344.9,616.1 L348.1,619.4 L350.4,617.4 L353.6,607.9 L355.6,613.6 L357.3,606.7 L359.8,637.4 L361.6,651.1 L363.3,643.6 L366.1,651.1 L368.6,671.0 L370.3,660.6 L372.3,674.0 L374.3,662.3 L377.8,657.8 L381.6,652.8 L383.6,654.3 L385.5,659.1 L388.5,652.3 L390.5,651.1 L392.3,647.3 L394.8,624.9 L396.5,634.9 L398.5,654.8 L401.0,669.8 L403.0,670.3 L405.5,683.5 L407.0,677.8 L409.8,698.5 L412.3,699.7 L414.2,688.0 L416.0,697.8 L418.5,684.0 L420.2,688.5 L422.7,676.8 L425.2,678.5 L428.0,664.3 L431.0,658.6 L433.5,651.8 L436.7,667.8 L439.7,657.3 L442.2,654.3 L445.4,641.1 L447.7,636.9 L449.7,647.3 L451.7,658.1 L453.7,659.3 L455.4,646.1 L457.4,656.8 L459.7,639.9 L462.2,633.6 L464.7,639.9 L466.7,640.4 L469.2,651.1 L471.6,666.1 L474.1,659.8 L475.4,661.1 L477.1,656.1 L479.1,656.8 L481.4,653.1 L483.4,669.8 L485.1,678.5 L487.1,683.5 L488.4,684.0 L490.6,698.0 L492.6,688.5 L495.1,690.3 L497.6,674.0 L499.6,668.6 L502.1,668.6 L504.1,669.8 L506.3,666.1 L508.3,649.8 L510.1,649.8 L512.6,646.8 L514.6,657.3 L516.6,671.0 L519.1,673.5 L520.8,684.8 L523.3,701.0 L525.1,706.7 L527.1,706.0 L529.5,702.2 L532.0,702.2 L534.5,692.3 L536.0,689.3 L538.5,676.8 L540.0,679.0 L543.0,671.0 L546.2,656.8 L549.5,633.6 L551.7,644.8 L554.5,642.8 L557.0,639.9 L558.7,634.9 L560.7,662.3 L562.5,650.6 L565.0,654.8 L567.0,661.1 L568.7,669.8 L571.2,692.8 L573.2,689.0 L575.4,707.7 L578.7,717.2 L580.7,718.5 L582.4,706.0 L584.4,684.8 L586.9,688.5 L589.9,697.3 L592.9,701.0 L595.4,714.7 L597.4,719.0 L600.4,704.7 L602.4,710.2 L604.9,693.5 L606.4,695.3 L608.6,678.5 L611.1,674.8 L613.6,670.3 L616.9,673.0 L619.4,662.8 L622.4,667.3 L624.4,667.3 L626.6,686.0 L628.6,668.6 L631.8,677.3 L634.3,680.5 L636.8,687.3 L639.3,702.2 L641.3,679.3 L643.3,684.8 L645.3,678.5 L648.3,663.6 L651.1,668.1 L654.3,669.1 L656.3,671.8 L659.3,649.3 L661.5,661.1 L663.0,671.0 L665.3,699.2 L667.3,702.2 L669.3,709.0 L671.8,694.8 L674.3,679.0 L676.8,678.5 L680.3,687.3 L682.8,689.8 L684.7,688.5 L687.2,698.0 L690.2,695.3 L693.2,710.2 L696.0,691.0 L698.2,686.5 L700.5,697.8 L702.7,663.6 L704.7,664.8 L707.2,659.8 L709.7,652.3 L711.7,650.6 L715.4,656.1 L717.7,654.3 L720.2,649.8 L722.2,649.8 L724.7,625.6 L727.2,636.1 L729.2,639.9 L731.7,641.1 L735.4,623.6 L737.7,631.9 L739.7,631.9 L742.6,636.1 L744.6,638.1 L748.4,636.9 L750.4,618.6 L753.4,625.6 L755.1,653.6 L756.1,664.8 L757.6,674.0 L759.6,664.3" fill="none" stroke="#9c2fb6" stroke-width="1.05" stroke-linejoin="round"/>
<g shape-rendering="crispEdges"><rect x="3" y="562" width="1117" height="1" fill="#555"/><rect x="3" y="729" width="1117" height="1" fill="#555"/><rect x="1120" y="43" width="1.3" height="713" fill="#4a4a4a" shape-rendering="auto"/><rect x="58" y="730" width="1" height="4" fill="#555"/><rect x="148" y="730" width="1" height="4" fill="#555"/><rect x="240" y="730" width="1" height="4" fill="#555"/><rect x="329" y="730" width="1" height="4" fill="#555"/><rect x="421" y="730" width="1" height="4" fill="#555"/><rect x="520" y="730" width="1" height="4" fill="#555"/><rect x="611" y="730" width="1" height="4" fill="#555"/><rect x="699" y="730" width="1" height="4" fill="#555"/><rect x="791" y="730" width="1" height="4" fill="#555"/><rect x="885" y="730" width="1" height="4" fill="#555"/><rect x="979" y="730" width="1" height="4" fill="#555"/><rect x="1077" y="730" width="1" height="4" fill="#555"/><rect x="1121" y="73" width="1" height="1" fill="#555"/><rect x="1121" y="105" width="1" height="1" fill="#555"/><rect x="1121" y="136" width="1" height="1" fill="#555"/><rect x="1121" y="167" width="1" height="1" fill="#555"/><rect x="1121" y="198" width="1" height="1" fill="#555"/><rect x="1121" y="230" width="1" height="1" fill="#555"/><rect x="1121" y="261" width="1" height="1" fill="#555"/><rect x="1121" y="292" width="1" height="1" fill="#555"/><rect x="1121" y="323" width="1" height="1" fill="#555"/><rect x="1121" y="355" width="1" height="1" fill="#555"/><rect x="1121" y="386" width="1" height="1" fill="#555"/><rect x="1121" y="417" width="1" height="1" fill="#555"/><rect x="1121" y="448" width="1" height="1" fill="#555"/><rect x="1121" y="480" width="1" height="1" fill="#555"/><rect x="1121" y="511" width="1" height="1" fill="#555"/><rect x="1121" y="542" width="1" height="1" fill="#555"/><rect x="1121" y="584" width="1" height="1" fill="#555"/><rect x="1121" y="632" width="1" height="1" fill="#555"/><rect x="1121" y="681" width="1" height="1" fill="#555"/><rect x="1120" y="234.8" width="2" height="7.6" fill="#4a8ad0"/><rect x="1120" y="244.3" width="2" height="7.2" fill="#4a8ad0"/><rect x="1120" y="441" width="2" height="7.6" fill="#26a69a"/><rect x="1120" y="450" width="2" height="7.4" fill="#26a69a"/></g><text class="tl" x="58" y="748">Nov</text><text class="tl" x="148.2" y="748" font-weight="bold">2018</text><text class="tl" x="240" y="748">Mar</text><text class="tl" x="329.4" y="748">May</text><text class="tl" x="421.3" y="748">Jul</text><text class="tl" x="520.2" y="748">Sep</text><text class="tl" x="611.5" y="748">Nov</text><text class="tl" x="699.5" y="748" font-weight="bold">2019</text><text class="tl" x="791.5" y="748">Mar</text><text class="tl" x="885.6" y="748">May</text><text class="tl" x="979.6" y="748">Jul</text><text class="tl" x="1077.4" y="748">Sep</text><rect x="723" y="731" width="61" height="22" fill="#4c8bd0"/><rect x="754" y="730" width="1" height="4" fill="#fff"/><text x="753.6" y="745.6" font-family="'Liberation Sans',sans-serif" font-size="10.5" font-weight="bold" fill="#fff" text-anchor="middle">06 Feb '19</text>
</svg>

<!-- LEGEND -->
<svg width="60" height="20" viewBox="0 0 60 20" style="position:absolute;left:0;top:50px">
<rect x="15.6" y="5.8" width="12" height="12" rx="1" fill="#fff" stroke="#777" stroke-width="1"/>
<path d="M21.6,7.4V16.2M17.2,11.8H26" stroke="#777" stroke-width="1"/>
<path d="M37.9,4.8H49.4L46.2,11.4L49.4,18H37.9Z" fill="#c3c5d0"/>
</svg>
<div class="lg" style="left:54px;font-size:17px;letter-spacing:-0.48px;color:#555;">DAX Index, 1D, TVC</div>
<svg width="12" height="10" viewBox="0 0 12 10" style="position:absolute;left:203px;top:57px"><path d="M2.2,2.6L6,6.2L9.8,2.6" stroke="#444" stroke-width="1.5" fill="none"/></svg>
<div class="lg" style="left:242px;">O<span>10955.8</span></div>
<div class="lg" style="left:323px;">H<span>11042.0</span></div>
<div class="lg" style="left:404px;">L<span>10944.6</span></div>
<div class="lg" style="left:482px;">C<span>10993.1</span></div>
<div class="lg" style="left:562px;"><span>+86.3 (+0.79%)</span></div>
<!-- TOP TOOLBAR -->
<div class="tt" style="left:15px;font-weight:bold;font-size:13.4px;color:#444;">DEU30</div>
<div class="vd" style="left:103px"></div>
<div class="tt" style="left:118px;font-size:13px;">D</div>
<div class="vd" style="left:141px"></div>
<div class="vd" style="left:180px"></div>
<div class="tt" style="left:216px;letter-spacing:-0.25px">Compare</div>
<div class="vd" style="left:282px"></div>
<div class="tt" style="left:318px;">Indicators</div>
<div class="vd" style="left:390px"></div>
<div class="tt" style="left:426px;">Templates</div>
<div class="vd" style="left:499px"></div>
<div class="vd" style="left:980px"></div>
<div class="vd" style="left:1019px"></div>
<div class="abs" id="publish">Publish</div>

<svg width="1122" height="42" viewBox="0 0 1122 42" style="position:absolute;left:0;top:0">
<!-- candle icon -->
<g stroke="#2b2b2b" stroke-width="1.1" fill="#fff">
<line x1="157.4" y1="10.5" x2="157.4" y2="29.5"/><rect x="155.5" y="14" width="3.8" height="12.3"/>
<line x1="165.8" y1="13" x2="165.8" y2="26.8"/><rect x="164" y="16.5" width="3.7" height="7.5"/>
</g>
<!-- compare -->
<g stroke="#2b2b2b" stroke-width="1.2" fill="none">
<circle cx="199.3" cy="20.6" r="9"/><path d="M199.3,15.6V25.6M194.3,20.6H204.3"/>
</g>
<!-- indicators -->
<path d="M293,23.5 L297.2,18.8 Q298.5,17.6 300,18.8 L303.6,22.2 Q305,23.4 306.4,22 L312,16.5" stroke="#2b2b2b" stroke-width="1.3" fill="none" stroke-linecap="round"/>
<!-- templates -->
<g stroke="#2b2b2b" stroke-width="1.2" fill="none" stroke-linecap="round">
<path d="M401.5,16.8 L405.8,12.6 Q407,11.6 408.3,12.8 L411.6,15.8 Q412.8,16.8 414,15.8 L419.5,11.6"/>
<path d="M401.5,21.5 L405.8,17.3 Q407,16.3 408.3,17.5 L411.6,20.5 Q412.8,21.5 414,20.5 L419.5,16.3"/>
<path d="M404.6,24.3V27.6M407.2,22.6V27.6M409.8,23.8V27.6M412.4,25.6V27.6M415,24.6V27.6M417.6,23.2V27.6M419.8,21.5V27.6" stroke-width="1"/>
<path d="M401.6,27.3h0.6M403,27.3h0.4" stroke-width="1"/>
</g>
<!-- alarm clock (partly hidden) -->
<g stroke="#2b2b2b" stroke-width="1.2" fill="none" stroke-linecap="round">
<circle cx="517.6" cy="20" r="8.4"/>
<path d="M517.8,15.2V20.4H514"/>
<path d="M508.8,15 Q508.6,11.8 511.8,11.2"/>
<path d="M520.4,26.2 H523"/>
</g>
<!-- cut-off icon right of floating toolbar -->
<g stroke="#2b2b2b" stroke-width="1.2" fill="none"><path d="M968,16.5h2.3v2.6h1.6v3.2h-1.6v2.6h-2.3"/></g>
<!-- fullscreen -->
<g stroke="#2b2b2b" stroke-width="1.2" fill="none" stroke-linecap="butt">
<path d="M992.3,16.8V12.4H996.7M992.6,12.7L997.6,17.7"/>
<path d="M1003.3,12.4H1007.7V16.8M1007.4,12.7L1002.4,17.7"/>
<path d="M992.3,23.2V27.6H996.7M992.6,27.3L997.6,22.3"/>
<path d="M1003.3,27.6H1007.7V23.2M1007.4,27.3L1002.4,22.3"/>
</g>
<!-- camera -->
<g stroke="#2b2b2b" stroke-width="1.2" fill="none" stroke-linejoin="round">
<path d="M1030.2,13.8H1033.6L1035.1,11.4H1041.9L1043.4,13.8H1046.8Q1048.6,13.8 1048.6,15.6V25.6Q1048.6,27.4 1046.8,27.4H1030.2Q1028.4,27.4 1028.4,25.6V15.6Q1028.4,13.8 1030.2,13.8Z"/>
<circle cx="1038.5" cy="20.4" r="4.1"/>
</g>
</svg>

<!-- FLOATING TOOLBAR -->
<div class="abs" id="ftb">
<div class="fd" style="left:15px"></div><div class="fd" style="left:54px"></div><div class="fd" style="left:93px"></div><div class="fd" style="left:132px"></div><div class="fd" style="left:171px"></div><div class="fd" style="left:210px"></div><div class="fd" style="left:249px"></div><div class="fd" style="left:288px"></div><div class="fd" style="left:327px"></div><div class="fd" style="left:366px"></div><div class="fd" style="left:405px"></div>
</div>
<!-- floating toolbar icons drawn above the toolbar div -->
<svg width="1122" height="42" viewBox="0 0 1122 42" style="position:absolute;left:0;top:0">
<!-- drag dots -->
<g fill="#d5d8dd"><rect x="527.2" y="15.2" width="1.8" height="1.8"/><rect x="531" y="15.2" width="1.8" height="1.8"/><rect x="527.2" y="18.8" width="1.8" height="1.8"/><rect x="531" y="18.8" width="1.8" height="1.8"/><rect x="527.2" y="22.4" width="1.8" height="1.8"/><rect x="531" y="22.4" width="1.8" height="1.8"/><rect x="527.2" y="26" width="1.8" height="1.8"/><rect x="531" y="26" width="1.8" height="1.8"/></g>
<!-- select -->
<g stroke="#6b7b90" fill="none">
<path d="M547.4,13.6V27.6H561.6" stroke-width="1.6"/>
<path d="M549.5,14.2H561M561,15.2V25.6" stroke-width="1.5" stroke-dasharray="3,2"/>
</g>
<path d="M565.2,20.3h5.4l-2.7,3z" fill="#4a4a4a"/>
<!-- A text tool -->
<text x="597" y="27" font-family="'Liberation Sans',sans-serif" font-size="20" fill="#6b7b90" text-anchor="middle">A</text>
<rect x="585" y="31" width="24" height="3.5" fill="#9400e6"/>
<!-- bucket -->
<g fill="#6b7b90">
<path d="M633.2,12.6 L641.6,20.6 L635.4,27 Q634.4,27.9 633.4,27 L627.6,21 Z"/>
<path d="M644,22.2 Q645.8,24.8 645.8,25.8 A1.8,1.8 0 0 1 642.2,25.8 Q642.2,24.8 644,22.2Z"/>
</g>
<path d="M630.2,18.8 L634.4,14.6 L638.8,18.8 Z" fill="#fff"/>
<path d="M631.8,11.2 L639,18" stroke="#6b7b90" stroke-width="1.3"/>
<g><rect x="624" y="30.8" width="24" height="3.6" fill="#dfe3e8"/><path d="M627,31v3.4M630,31v3.4M633,31v3.4M636,31v3.4M639,31v3.4M642,31v3.4M645,31v3.4" stroke="#b4bcc8" stroke-width="1"/><rect x="624" y="30.8" width="24" height="1" fill="#b4bcc8"/></g>
<!-- pencil -->
<g fill="#6b7b90" transform="translate(667,28) scale(0.93) translate(-667,-27.4)">
<path d="M667,27.4 L667.9,22.6 L678.4,12.1 L682.3,16 L671.8,26.5 Z"/>
<path d="M679.6,10.9 L681,9.5 Q681.8,8.8 682.6,9.5 L684.9,11.8 Q685.6,12.6 684.9,13.4 L683.5,14.8 Z"/>
</g>
<rect x="663" y="31" width="24" height="3.5" fill="#1fea2a"/>
<!-- 20 -->
<text x="703" y="26" font-family="'Liberation Sans',sans-serif" font-size="13.5" fill="#3a3a3a" letter-spacing="-0.5">20</text>
<path d="M721,20.3h5.4l-2.7,3z" fill="#4a4a4a"/>
<!-- gear -->
<g transform="translate(753.3,21)">
<g fill="#6b7b90">
<rect x="-1.7" y="-7.4" width="3.4" height="14.8" rx="0.6"/>
<rect x="-1.7" y="-7.4" width="3.4" height="14.8" rx="0.6" transform="rotate(45)"/>
<rect x="-1.7" y="-7.4" width="3.4" height="14.8" rx="0.6" transform="rotate(90)"/>
<rect x="-1.7" y="-7.4" width="3.4" height="14.8" rx="0.6" transform="rotate(135)"/>
<circle r="5.5"/>
</g>
<circle r="2.9" fill="#fff"/>
</g>
<!-- layers -->
<g>
<path d="M781.4,16.2V27.4H793" stroke="#6b7b90" stroke-width="1.3" fill="none"/>
<rect x="783.6" y="13" width="12.4" height="12.2" rx="1" fill="#6b7b90"/>
</g>
<path d="M799.6,20.3h5.4l-2.7,3z" fill="#4a4a4a"/>
<!-- copy -->
<g stroke="#6b7b90" stroke-width="1.3" fill="#fff">
<path d="M820.4,24.4V14.2H830"/>
<rect x="823" y="16.4" width="10" height="12" rx="1"/>
</g>
<path d="M838.6,20.3h5.4l-2.7,3z" fill="#4a4a4a"/>
<!-- lock -->
<g>
<path d="M866.6,19.5V17.3A3.4,3.4 0 0 1 873.4,17.3V19.5" stroke="#6b7b90" stroke-width="1.7" fill="none"/>
<rect x="864" y="19.2" width="12" height="9" rx="1.2" fill="#6b7b90"/>
<circle cx="870" cy="24" r="1.2" fill="#fff"/>
</g>
<!-- eye -->
<g>
<path d="M900.6,20.6 Q908.6,11.4 916.8,20.6 Q908.6,29.8 900.6,20.6Z" fill="#6b7b90"/>
<circle cx="908.7" cy="20.4" r="3.4" fill="#fff"/><circle cx="908.7" cy="20.4" r="1.8" fill="#6b7b90"/>
</g>
<!-- trash -->
<g fill="#6b7b90">
<rect x="941.6" y="14" width="12.8" height="2" rx="0.6"/>
<rect x="945.4" y="12.2" width="5.2" height="2.4" rx="0.8"/>
<path d="M942.8,17.2H953.2V26.6Q953.2,28.2 951.6,28.2H944.4Q942.8,28.2 942.8,26.6Z"/>
</g>
</svg>


<!-- BOTTOM TOOLBAR -->
<div class="bt" style="left:19.6px">1D</div>
<div class="bt" style="left:49.4px">5D</div>
<div class="bt" style="left:79.7px">1M</div>
<div class="bt" style="left:110.9px">3M</div>
<div class="bt" style="left:141.7px">6M</div>
<div class="bt" style="left:172.9px">YTD</div>
<div class="bt" style="left:212px">1Y</div>
<div class="bt" style="left:241.3px">5Y</div>
<div class="bt" style="left:270.4px">All</div>
<div class="abs" style="left:303px;top:761px;width:1px;height:23px;background:#e4e6ea"></div>
<div class="bt" style="left:319.6px;font-size:14px;letter-spacing:0.3px">Go to...</div>
<div class="bt" style="left:945.9px;letter-spacing:0.28px">11:21:13 (UTC)</div>
<div class="abs" style="left:1055px;top:761px;width:1px;height:23px;background:#e4e6ea"></div>
<div class="bt" style="left:1072.6px;font-size:16px;letter-spacing:0">%</div>
<div class="bt" style="left:1100.8px;letter-spacing:0">log</div>
</body></html>
